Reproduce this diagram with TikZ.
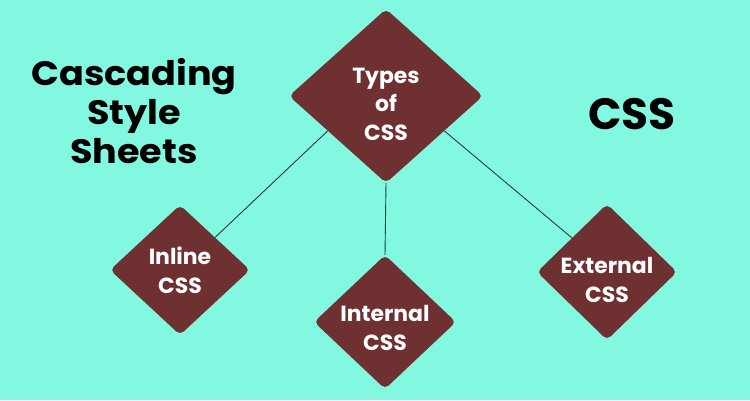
\documentclass[tikz,border=0pt]{standalone}
\usepackage{fontspec}
\setmainfont{Poppins}
\newfontfamily\headfont[FakeStretch=1.08]{Poppins}
\usetikzlibrary{shapes.geometric}
\usetikzlibrary{calc}
\definecolor{aqua}{RGB}{130,248,224}
\definecolor{maroon}{RGB}{110,48,48}
\definecolor{wire}{RGB}{35,60,60}
\newcommand{\topgap}[1]{\rule{0pt}{#1}}

\tikzset{
  kind/.style={diamond, fill=maroon, rounded corners=5pt, inner sep=-14pt,
    text=white, align=center, font=\bfseries\fontsize{22}{29}\selectfont},
  heading/.style={align=center, text=black, font=\headfont\bfseries\fontsize{34}{39}\selectfont},
  link/.style={draw=wire, line width=0.9bp},
}

\begin{document}
\begin{tikzpicture}[x=1bp, y=-1bp]
\fill[aqua] (0,0) rectangle (750,400);
\useasboundingbox (0,0) rectangle (750,400);

% --- titles ---
\node[heading] (longname) at (134,111) {Cascading\\Style\\Sheets};
\node[heading, font=\bfseries\fontsize{44}{44}\selectfont] (shortname) at (632,114) {CSS};

% --- diamonds ---
\node[kind, minimum width=194bp, minimum height=174bp] (types) at (386,96) {\topgap{32bp}Types\\of\\CSS};
\node[kind, minimum width=140bp, minimum height=130bp] (inline) at (180,270) {Inline\\CSS};
\node[kind, minimum width=142bp, minimum height=134bp] (internal) at (385,322) {\topgap{28bp}Internal\\CSS};
\node[kind, minimum width=140bp, minimum height=136bp] (external) at (607,272) {\topgap{32bp}External\\CSS};

% --- connectors ---
\draw[link] ($(types.west)!0.4!(types.south)$) -- (inline.north east);
\draw[link] (types.south) -- (internal.north);
\draw[link] ($(types.east)!0.4!(types.south)$) -- (external.north west);
\end{tikzpicture}
\end{document}
